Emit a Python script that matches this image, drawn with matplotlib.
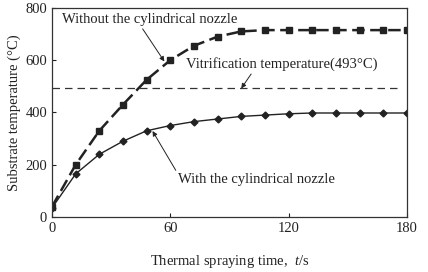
import matplotlib
matplotlib.use("Agg")
import matplotlib.pyplot as plt

plt.rcParams["font.family"] = ["Liberation Serif", "DejaVu Serif"]
plt.rcParams["mathtext.fontset"] = "custom"
plt.rcParams["mathtext.it"] = "Liberation Serif:italic"

time_s = [0, 12, 24, 36, 48, 60, 72, 84, 96, 108, 120, 132, 144, 156, 168, 180]
without_nozzle = [40, 200, 330, 430, 525, 600, 655, 690, 710, 715, 715, 715, 715, 715, 715, 715]
with_nozzle = [35, 165, 240, 290, 330, 350, 365, 375, 385, 390, 395, 398, 398, 398, 398, 398]
vitrification = 493

fs = 10.5

fig = plt.figure(figsize=(4.28, 2.72), dpi=100)
ax = fig.add_axes([0.1215, 0.202, 0.829, 0.769])

ax.plot(time_s, without_nozzle, color="#222222", linestyle=(0, (5, 2.2)), linewidth=1.8,
        marker="s", markersize=4.5)
ax.plot(time_s, with_nozzle, color="#222222", linestyle="-", linewidth=1.0,
        marker="D", markersize=3.5)
ax.plot([0, 177], [vitrification, vitrification], color="#333333",
        linestyle=(0, (6, 4)), linewidth=0.9)

arrow = dict(arrowstyle="-|>", color="#222222", linewidth=0.7,
             mutation_scale=7, shrinkA=0, shrinkB=0)
ax.annotate("Without the cylindrical nozzle", xy=(57, 595), xytext=(5, 742),
            fontsize=fs, color="#222222", arrowprops=dict(arrow, relpos=(0.45, 0)))
ax.annotate("Vitrification temperature(493°C)", xy=(96, 492), xytext=(68, 570),
            fontsize=fs, color="#222222", arrowprops=dict(arrow, relpos=(0.35, 0)))
ax.annotate("With the cylindrical nozzle", xy=(51, 329), xytext=(64, 130),
            fontsize=fs, color="#222222", arrowprops=dict(arrow, relpos=(0.0, 0.9)))

ax.set_xlim(0, 180)
ax.set_ylim(0, 800)
ax.set_xticks([0, 60, 120, 180])
ax.set_yticks([0, 200, 400, 600, 800])
ax.tick_params(direction="in", length=3, width=0.8, labelsize=fs, colors="#222222")
for sp in ax.spines.values():
    sp.set_linewidth(0.9)
    sp.set_color("#333333")

ax.set_xlabel("Thermal spraying time,  $t$/s", fontsize=fs, labelpad=13, color="#222222")
ax.set_ylabel("Substrate temperature (°C)", fontsize=fs, labelpad=3, color="#222222")

fig.savefig("out.png", dpi=100)
